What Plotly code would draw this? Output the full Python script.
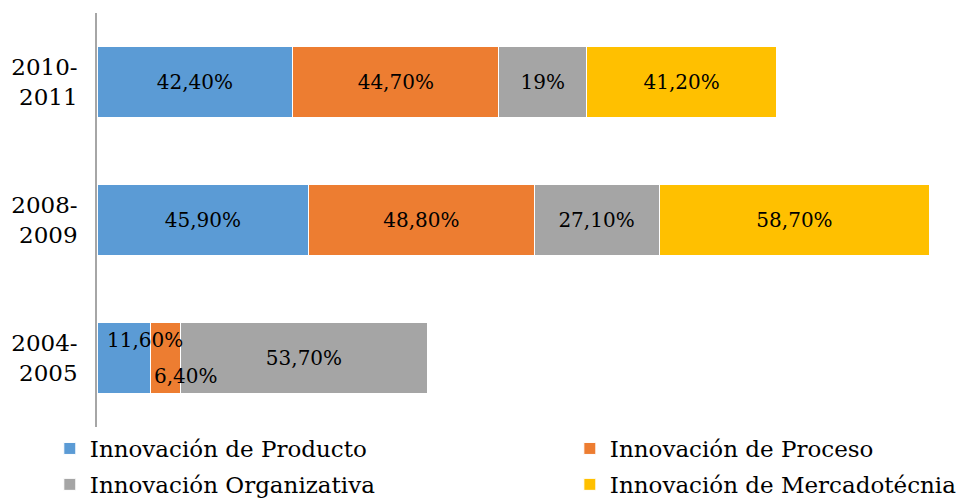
import plotly.graph_objects as go

periodos = ["2004-<br>2005", "2008-<br>2009", "2010-<br>2011"]

series = ["Innovación de Producto", "Innovación de Proceso",
          "Innovación Organizativa", "Innovación de Mercadotécnia"]

producto = [11.6, 45.9, 42.4]
proceso = [6.4, 48.8, 44.7]
organizativa = [53.7, 27.1, 19]
mercadotecnia = [0, 58.7, 41.2]

etiquetas_producto = ["", "45,90%", "42,40%"]
etiquetas_proceso = ["", "48,80%", "44,70%"]
etiquetas_organizativa = ["53,70%", "27,10%", "19%"]
etiquetas_mercadotecnia = ["", "58,70%", "41,20%"]

colores = ["#5B9BD5", "#ED7D31", "#A5A5A5", "#FFC000"]
# dos columnas de leyenda, como en el original
leyendas = ["legend", "legend2", "legend", "legend2"]

FUENTE = "DejaVu Serif"

fig = go.Figure()
valores = [producto, proceso, organizativa, mercadotecnia]
etiquetas = [etiquetas_producto, etiquetas_proceso, etiquetas_organizativa, etiquetas_mercadotecnia]
for nombre, vals, txt, color, ley in zip(series, valores, etiquetas, colores, leyendas):
    fig.add_trace(go.Bar(
        y=periodos, x=vals, name=nombre, orientation="h", legend=ley,
        legendgroup=nombre,
        marker=dict(color=color, line=dict(color="white", width=1)),
        text=txt, textposition="inside", insidetextanchor="middle",
        textangle=0, textfont=dict(family=FUENTE, size=20, color="black"),
        hoverinfo="skip",
    ))

# etiquetas pequeñas de 2004-2005 que no caben dentro de su barra
fig.add_annotation(x=producto[0] / 2, y=periodos[0], text="11,60%",
                   showarrow=False, xshift=21, yshift=18,
                   font=dict(family=FUENTE, size=20, color="black"))
fig.add_annotation(x=producto[0] + proceso[0] / 2, y=periodos[0], text="6,40%",
                   showarrow=False, xshift=21, yshift=-18,
                   font=dict(family=FUENTE, size=20, color="black"))

estilo_leyenda = dict(orientation="v", yanchor="top", xanchor="left",
                      tracegroupgap=3, bgcolor="rgba(0,0,0,0)",
                      font=dict(family=FUENTE, size=23, color="black"))

# la página añade 8 px de margen al cuerpo, por eso 963x493
fig.update_layout(
    width=963, height=493,
    barmode="stack", bargap=0.49,
    plot_bgcolor="white", paper_bgcolor="white",
    margin=dict(l=89, r=0, t=5, b=74, autoexpand=False),
    font=dict(family=FUENTE, size=23, color="black"),
    uniformtext=dict(mode="show", minsize=20),
    showlegend=True,
    legend=dict(x=-0.054, y=0.0, **estilo_leyenda),
    legend2=dict(x=0.541, y=0.0, **estilo_leyenda),
)
fig.update_xaxes(range=[0, 189.4], visible=False)
fig.update_yaxes(showline=True, linecolor="#A6A6A6", linewidth=1.5,
                 ticks="", showgrid=False, ticklabelstandoff=13, automargin=False,
                 tickfont=dict(family=FUENTE, size=23, color="black"))

fig.write_html("out.html")
